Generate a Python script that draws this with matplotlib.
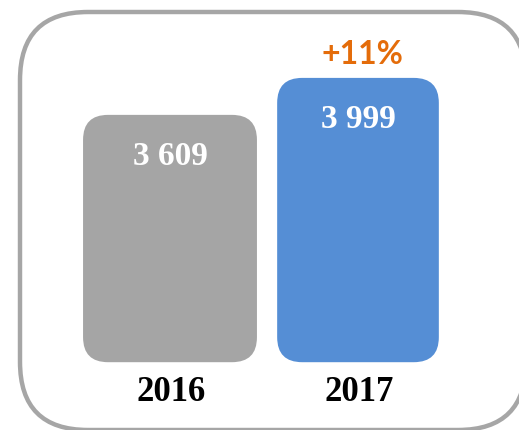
import matplotlib
matplotlib.use('Agg')
import matplotlib.pyplot as plt
from matplotlib.patches import FancyBboxPatch

# chart data
years = ['2016', '2017']
values = [3609, 3999]
value_labels = ['3 609', '3 999']

bar_colors = ['#A5A5A5', '#558ED5']
bar_widths = [0.925, 0.86]
bar_floor = 1000   # the bars start above the axis origin in the original
W, H = 519, 430

fig = plt.figure(figsize=(W / 100, H / 100), dpi=100)

# decorative frame in pixel coordinates (y measured from the bottom)
# filled white so the renderer does not clip the curved path at the canvas edge
frame_ax = fig.add_axes([0, 0, 1, 1])
frame_ax.set_xlim(0, W)
frame_ax.set_ylim(0, H)
frame_ax.axis('off')
frame_ax.add_patch(FancyBboxPatch((20, 0), 506, 418,
                                  boxstyle='round,pad=0,rounding_size=68',
                                  facecolor='white', edgecolor='#A6A6A6', linewidth=3.2,
                                  clip_on=False))

# data axes: placed so that bars land where they do in the reference
ax = fig.add_axes([76 / W, -27 / H, 376 / W, 426.6 / H])
ax.set_xlim(-0.5, 1.5)
ax.set_ylim(0, 4500)
ax.axis('off')
ax.patch.set_alpha(0)

bars = ax.bar(range(len(years)), [v - bar_floor for v in values],
              bottom=bar_floor, width=bar_widths, color=bar_colors)

# swap the square bars for rounded ones
p0 = ax.transData.transform((0, 0))
p1 = ax.transData.transform((1, 1))
px_per_x = p1[0] - p0[0]
px_per_y = p1[1] - p0[1]
radius_px = 25
for b in bars:
    b.set_visible(False)
    ax.add_patch(FancyBboxPatch((b.get_x(), b.get_y()), b.get_width(), b.get_height(),
                                boxstyle=f'round,pad=0,rounding_size={radius_px / px_per_x}',
                                mutation_aspect=px_per_x / px_per_y,
                                facecolor=b.get_facecolor(), edgecolor='none'))

serif = ['Liberation Serif', 'DejaVu Serif']
for i, (v, lab, yr) in enumerate(zip(values, value_labels, years)):
    ax.annotate(lab, (i, v), xytext=(0, -30), textcoords='offset points',
                ha='center', va='center', color='white', fontsize=24,
                fontweight='bold', family=serif)
    ax.annotate(yr, (i, bar_floor), xytext=(1, -22), textcoords='offset points',
                ha='center', va='center', color='black', fontsize=25,
                fontweight='bold', family=serif)

growth = (values[1] / values[0] - 1) * 100
ax.annotate(f'+{growth:.0f}%', (1, values[1]), xytext=(3, 17), textcoords='offset points',
            ha='center', va='center', color='#E46C0A', fontsize=23,
            fontweight='bold', family=['Lato', 'DejaVu Sans'])

fig.savefig('out.png', dpi=100)
